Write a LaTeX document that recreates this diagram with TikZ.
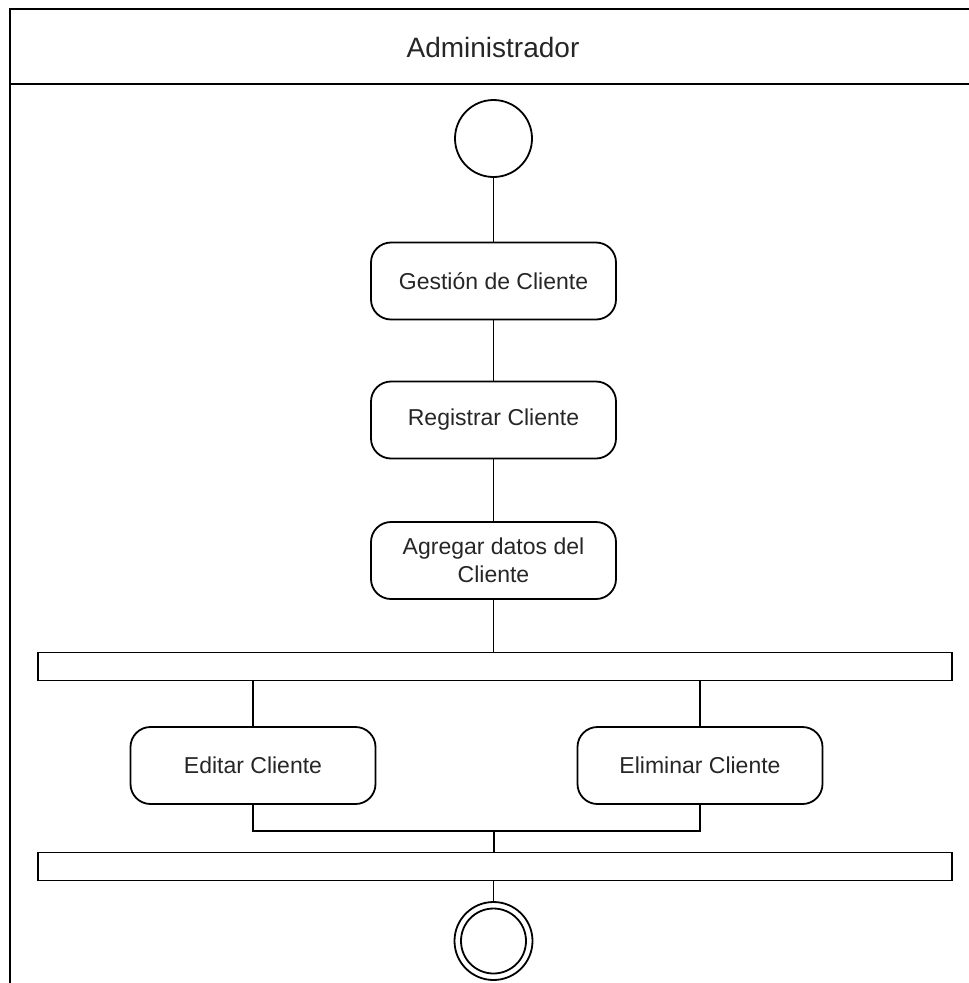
\documentclass[tikz,border=0pt]{standalone}
\usepackage{fontspec}
\setmainfont{Liberation Sans}
\begin{document}
\begin{tikzpicture}[x=1pt,y=-1pt,
  line width=1.8pt,
  every node/.style={inner sep=0pt, outer sep=0pt},
  act/.style={draw, rounded corners=20pt, fill=white, minimum width=245pt,
    minimum height=77pt, align=center, font=\fontsize{23}{28}\selectfont, text=black!85},
  bar/.style={draw, fill=white, minimum width=914pt, minimum height=28pt},
  initial/.style={draw, circle, minimum size=77pt, fill=white},
  final/.style={draw, circle, minimum size=78pt, fill=white},
  flow/.style={draw, line width=1.8pt}
]
\useasboundingbox (0,0) rectangle (969,983);

% swimlane frame and header
\draw (10,990) -- (10,9) -- (980,9);
\draw (10,84) -- (980,84);
\node[font=\fontsize{28}{32}\selectfont, text=black!85] (lane) at (493,47) {Administrador};

% activity nodes
\node[initial] (start) at (493.5,138.5) {};
\node[act] (gest) at (493.5,281) {Gestión de Cliente};
\node[act] (reg) at (493.5,420) {Registrar Cliente};
\node[act] (agr) at (493.5,560.5) {Agregar datos del\\Cliente};
\node[bar] (fork) at (495,666.5) {};
\node[act] (edit) at (253,765.5) {Editar Cliente};
\node[act] (elim) at (700,765.5) {Eliminar Cliente};
\node[bar] (join) at (495,866.5) {};
\node[final] (stop) at (493.5,941) {};
\draw (stop.center) circle[radius=32.5pt];
\coordinate (merge) at (494,831);

% flows
\draw[flow] (start) -- (gest);
\draw[flow] (gest) -- (reg);
\draw[flow] (reg) -- (agr);
\draw[flow] (agr.south) -- (agr.south |- fork.north);
\draw[flow] (fork.south -| edit.north) -- (edit.north);
\draw[flow] (fork.south -| elim.north) -- (elim.north);
\draw[flow] (edit.south) |- (merge);
\draw[flow] (elim.south) |- (merge);
\draw[flow] (merge) -- (merge |- join.north);
\draw[flow] (join.south -| stop.north) -- (stop.north);
\end{tikzpicture}
\end{document}
